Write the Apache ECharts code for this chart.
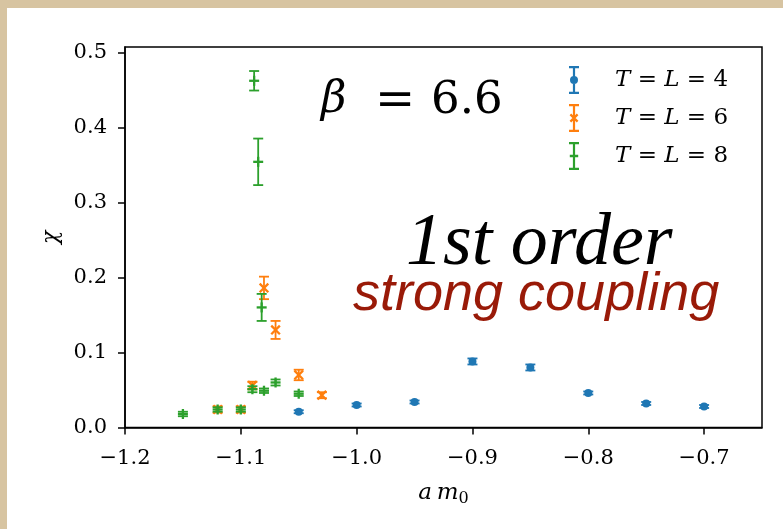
<!DOCTYPE html>
<html><head><meta charset="utf-8">
<script src="https://cdn.jsdelivr.net/npm/echarts@6/dist/echarts.min.js"></script>
<style>
html,body{margin:0;padding:0;background:#d7c4a1;width:783px;height:529px;overflow:hidden}
#card{position:absolute;left:7px;top:8px;right:0;bottom:0;background:#fff}
#main{position:absolute;left:0;top:0;width:783px;height:529px}
</style></head>
<body><div id="card"></div><div id="main"></div>
<script>
// T = L = 4
const xL4 = [-1.05, -1.00, -0.95, -0.90, -0.85, -0.80, -0.75, -0.70];
const yL4 = [0.021, 0.030, 0.034, 0.088, 0.080, 0.046, 0.032, 0.028];
const eL4 = [0.002, 0.002, 0.002, 0.004, 0.004, 0.002, 0.002, 0.002];
// T = L = 6
const xL6 = [-1.12, -1.10, -1.09, -1.08, -1.07, -1.05, -1.03];
const yL6 = [0.024, 0.024, 0.056, 0.186, 0.130, 0.070, 0.043];
const eL6 = [0.004, 0.004, 0.005, 0.015, 0.012, 0.007, 0.004];
// T = L = 8
const xL8 = [-1.15, -1.12, -1.10, -1.09, -1.0885, -1.085, -1.082, -1.08, -1.07, -1.05];
const yL8 = [0.018, 0.024, 0.024, 0.051, 0.462, 0.354, 0.160, 0.049, 0.060, 0.045];
const eL8 = [0.003, 0.003, 0.003, 0.004, 0.013, 0.031, 0.018, 0.003, 0.004, 0.003];

const seriesNames = ['T=L=4', 'T=L=6', 'T=L=8'];
const xTicks = [-1.2, -1.1, -1.0, -0.9, -0.8, -0.7];
const yTicks = [0.0, 0.1, 0.2, 0.3, 0.4, 0.5];

const colors = ['#1f77b4', '#ff7f0e', '#2ca02c'];
const SERIF = '"DejaVu Serif", serif';

function zip(xs, ys, es) { return xs.map((x, i) => [x, ys[i], es[i]]); }

function makeRender(marker, color) {
  return function (params, api) {
    const x = api.value(0), y = api.value(1), e = api.value(2);
    const p = api.coord([x, y]);
    const t = api.coord([x, y + e]);
    const b = api.coord([x, y - e]);
    const cw = 5, lw = 1.8;
    const st = { stroke: color, lineWidth: lw };
    const ch = [
      { type: 'line', shape: { x1: p[0], y1: t[1], x2: p[0], y2: b[1] }, style: st },
      { type: 'line', shape: { x1: p[0] - cw, y1: t[1], x2: p[0] + cw, y2: t[1] }, style: st },
      { type: 'line', shape: { x1: p[0] - cw, y1: b[1], x2: p[0] + cw, y2: b[1] }, style: st }
    ];
    const ms = { stroke: color, lineWidth: 2.3 };
    if (marker === 'o') {
      ch.push({ type: 'circle', shape: { cx: p[0], cy: p[1], r: 4 }, style: { fill: color } });
    } else if (marker === 'x') {
      ch.push({ type: 'line', shape: { x1: p[0] - 4.3, y1: p[1] - 4.3, x2: p[0] + 4.3, y2: p[1] + 4.3 }, style: ms });
      ch.push({ type: 'line', shape: { x1: p[0] - 4.3, y1: p[1] + 4.3, x2: p[0] + 4.3, y2: p[1] - 4.3 }, style: ms });
    } else {
      ch.push({ type: 'line', shape: { x1: p[0] - 5, y1: p[1], x2: p[0] + 5, y2: p[1] }, style: ms });
      ch.push({ type: 'line', shape: { x1: p[0], y1: p[1] - 5, x2: p[0], y2: p[1] + 5 }, style: ms });
    }
    return { type: 'group', children: ch };
  };
}

const barPath = 'M3.9,0 H6.1 V28 H3.9 Z M0,0 H10 V2.2 H0 Z M0,25.8 H10 V28 H0 Z ';
const icons = [
  'path://' + barPath + 'M9,14 A4,4 0 1,1 1,14 A4,4 0 1,1 9,14 Z',
  'path://' + barPath + 'M2.2,9.6 L9.4,16.8 L7.8,18.4 L0.6,11.2 Z M9.4,11.2 L2.2,18.4 L0.6,16.8 L7.8,9.6 Z',
  'path://' + barPath + 'M0.8,12.8 H9.2 V15.2 H0.8 Z'
];

const chart = echarts.init(document.getElementById('main'), null, { renderer: 'canvas' });
const markers = ['o', 'x', '+'];
const datas = [zip(xL4, yL4, eL4), zip(xL6, yL6, eL6), zip(xL8, yL8, eL8)];

chart.setOption({
  animation: false,
  backgroundColor: 'transparent',
  grid: { left: 125, right: 21, top: 47, bottom: 101.5, show: true, borderColor: '#000', borderWidth: 1.5, backgroundColor: 'transparent' },
  xAxis: {
    type: 'value', min: -1.2, max: -0.65,
    name: '{i|a\u2009m}{s|0}', nameLocation: 'middle', nameGap: 52,
    nameTextStyle: { rich: {
      i: { fontFamily: SERIF, fontStyle: 'italic', fontSize: 23, color: '#000' },
      s: { fontFamily: SERIF, fontSize: 16, color: '#000', padding: [11, 0, 0, 0] }
    } },
    axisLine: { show: true, lineStyle: { color: '#000', width: 1.5 } },
    axisTick: { show: true, inside: false, length: 7, lineStyle: { color: '#000', width: 1.5 }, customValues: xTicks },
    axisLabel: { customValues: xTicks, margin: 21, fontFamily: SERIF, fontSize: 21, color: '#000',
      formatter: v => (v < 0 ? '\u2212' : '') + Math.abs(v).toFixed(1) },
    splitLine: { show: false }
  },
  yAxis: {
    type: 'value', min: 0, max: 0.507,
    name: '\u03c7', nameLocation: 'middle', nameGap: 62, nameRotate: 90,
    nameTextStyle: { fontFamily: SERIF, fontStyle: 'italic', fontSize: 22, color: '#000' },
    axisLine: { show: true, lineStyle: { color: '#000', width: 1.5 } },
    axisTick: { show: true, inside: false, length: 7, lineStyle: { color: '#000', width: 1.5 }, customValues: yTicks },
    axisLabel: { customValues: yTicks, margin: 18, fontFamily: SERIF, fontSize: 21, color: '#000',
      formatter: v => v.toFixed(1) },
    splitLine: { show: false }
  },
  legend: {
    orient: 'vertical', left: 564, top: 61, itemWidth: 10, itemHeight: 28, itemGap: 10,
    data: seriesNames.map((n, i) => ({ name: n, icon: icons[i] })),
    formatter: name => '{i|T}{r| = }{i|L}{r| = ' + name.slice(-1) + '}',
    textStyle: { padding: [0, 0, 0, 31], rich: {
      i: { fontFamily: SERIF, fontStyle: 'italic', fontSize: 23, color: '#000' },
      r: { fontFamily: SERIF, fontSize: 23, color: '#000' }
    } }
  },
  graphic: [
    { type: 'text', left: 321, top: 79, style: { text: '\u03b2', font: 'italic 44px "DejaVu Serif"', fill: '#000' } },
    { type: 'text', left: 375, top: 79, style: { text: '=', font: '48px "DejaVu Serif"', fill: '#000' } },
    { type: 'text', left: 431, top: 79, style: { text: '6.6', font: '45px "DejaVu Serif"', fill: '#000' } },
    { type: 'text', left: 406, top: 208, style: { text: '1st order', font: 'italic 74px "Liberation Serif"', fill: '#000' } },
    { type: 'text', left: 353, top: 268, style: { text: 'strong coupling', font: 'italic 54px "Liberation Sans"', fill: '#991a08' } }
  ],
  series: datas.map((d, i) => ({
    name: seriesNames[i], type: 'custom', data: d,
    itemStyle: { color: colors[i] },
    encode: { x: 0, y: 1 },
    renderItem: makeRender(markers[i], colors[i])
  }))
});
</script>
</body></html>
